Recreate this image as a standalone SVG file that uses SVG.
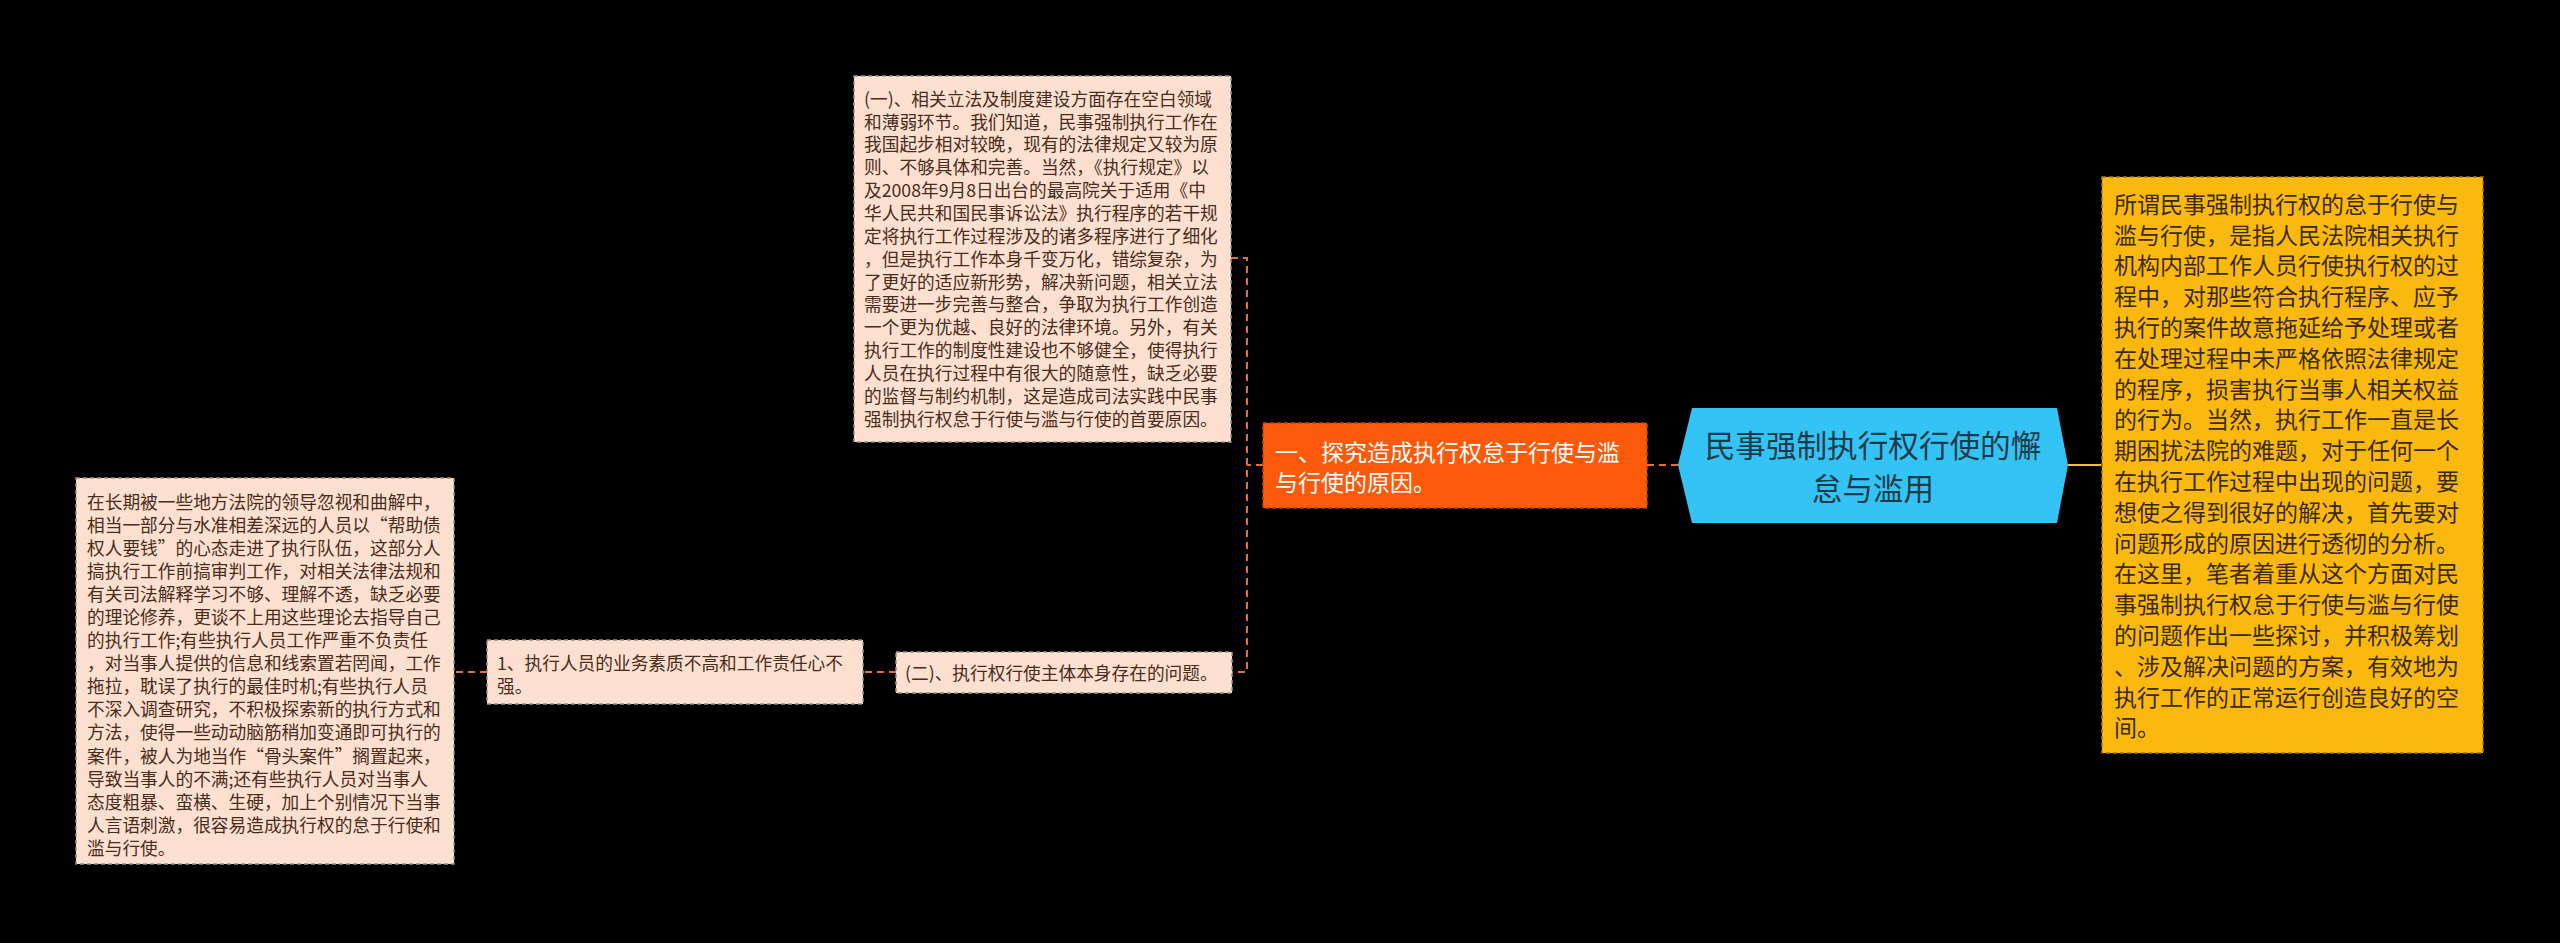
<svg xmlns="http://www.w3.org/2000/svg" width="2560" height="943" viewBox="0 0 2560 943">
<style>
.pink{fill:#fde0cf;stroke:#9a9088;stroke-width:1.5;stroke-dasharray:4 3}
.pt{font-family:"Noto Sans CJK SC","Noto Sans",sans-serif;font-size:17.7px;fill:#4a2c1c}
.org{fill:#fb5a0b;stroke:#c84400;stroke-width:1.5;stroke-dasharray:4 3}
.ot{font-family:"Noto Sans CJK SC","Noto Sans",sans-serif;font-size:23px;fill:#ffffff}
.hex{fill:#33c3f4}
.ht{font-family:"Noto Sans CJK SC","Noto Sans",sans-serif;font-size:30.6px;fill:#1d3a48;text-anchor:middle}
.yel{fill:#fbb90f;stroke:#a87a00;stroke-width:1.5;stroke-dasharray:4 3}
.yt{font-family:"Noto Sans CJK SC","Noto Sans",sans-serif;font-size:23px;fill:#3a2a05}
.conn{fill:none;stroke:#e2703a;stroke-width:2;stroke-dasharray:7 5}
.connY{fill:none;stroke:#f2c02a;stroke-width:2}
</style>
<rect width="2560" height="943" fill="#000"/>
<g id="connectors">
<path class="conn" d="M1647,465 L1678,465"/>
<path class="connY" d="M2068,465 L2101,465"/>
<path class="conn" d="M1263,465 L1247,465"/>
<path class="conn" d="M1231,258 L1247,258 L1247,672 L1232,672"/>
<path class="conn" d="M896,672 L863,672"/>
<path class="conn" d="M487,672 L454,672"/>
</g>
<g id="root">
<polygon class="hex" points="1678,465 1692,408 2057,408 2068,465 2057,523 1692,523"/>
<text class="ht"><tspan x="1873" y="456.6">民事强制执行权行使的懈</tspan><tspan x="1873" y="499.6">怠与滥用</tspan></text>
</g>
<g id="summary">
<rect class="yel" x="2102" y="177" width="381" height="576"/>
<text class="yt">
<tspan x="2114" y="212.7">所谓民事强制执行权的怠于行使与</tspan>
<tspan x="2114" y="243.5">滥与行使，是指人民法院相关执行</tspan>
<tspan x="2114" y="274.3">机构内部工作人员行使执行权的过</tspan>
<tspan x="2114" y="305.1">程中，对那些符合执行程序、应予</tspan>
<tspan x="2114" y="335.9">执行的案件故意拖延给予处理或者</tspan>
<tspan x="2114" y="366.7">在处理过程中未严格依照法律规定</tspan>
<tspan x="2114" y="397.5">的程序，损害执行当事人相关权益</tspan>
<tspan x="2114" y="428.3">的行为。当然，执行工作一直是长</tspan>
<tspan x="2114" y="459.1">期困扰法院的难题，对于任何一个</tspan>
<tspan x="2114" y="489.9">在执行工作过程中出现的问题，要</tspan>
<tspan x="2114" y="520.7">想使之得到很好的解决，首先要对</tspan>
<tspan x="2114" y="551.5">问题形成的原因进行透彻的分析。</tspan>
<tspan x="2114" y="582.3">在这里，笔者着重从这个方面对民</tspan>
<tspan x="2114" y="613.1">事强制执行权怠于行使与滥与行使</tspan>
<tspan x="2114" y="643.9">的问题作出一些探讨，并积极筹划</tspan>
<tspan x="2114" y="674.7">、涉及解决问题的方案，有效地为</tspan>
<tspan x="2114" y="705.5">执行工作的正常运行创造良好的空</tspan>
<tspan x="2114" y="736.3">间。</tspan>
</text>
</g>
<g id="branch1">
<rect class="org" x="1263" y="423" width="384" height="85"/>
<text class="ot"><tspan x="1275" y="460.7">一、探究造成执行权怠于行使与滥</tspan><tspan x="1275" y="490.7">与行使的原因。</tspan></text>
</g>
<g id="sub1">
<rect class="pink" x="854" y="76" width="377" height="366"/>
<text class="pt">
<tspan x="864" y="105.7">(一)、相关立法及制度建设方面存在空白领域</tspan>
<tspan x="864" y="128.6">和薄弱环节。我们知道，民事强制执行工作在</tspan>
<tspan x="864" y="151.4">我国起步相对较晚，现有的法律规定又较为原</tspan>
<tspan x="864" y="174.3">则、不够具体和完善。当然，《执行规定》以</tspan>
<tspan x="864" y="197.1">及2008年9月8日出台的最高院关于适用《中</tspan>
<tspan x="864" y="220.0">华人民共和国民事诉讼法》执行程序的若干规</tspan>
<tspan x="864" y="242.9">定将执行工作过程涉及的诸多程序进行了细化</tspan>
<tspan x="864" y="265.7">，但是执行工作本身千变万化，错综复杂，为</tspan>
<tspan x="864" y="288.6">了更好的适应新形势，解决新问题，相关立法</tspan>
<tspan x="864" y="311.4">需要进一步完善与整合，争取为执行工作创造</tspan>
<tspan x="864" y="334.3">一个更为优越、良好的法律环境。另外，有关</tspan>
<tspan x="864" y="357.1">执行工作的制度性建设也不够健全，使得执行</tspan>
<tspan x="864" y="380.0">人员在执行过程中有很大的随意性，缺乏必要</tspan>
<tspan x="864" y="402.9">的监督与制约机制，这是造成司法实践中民事</tspan>
<tspan x="864" y="425.7">强制执行权怠于行使与滥与行使的首要原因。</tspan>
</text>
</g>
<g id="sub2">
<rect class="pink" x="896" y="652" width="336" height="41"/>
<text class="pt"><tspan x="905" y="679.7">(二)、执行权行使主体本身存在的问题。</tspan></text>
</g>
<g id="sub2-1">
<rect class="pink" x="487" y="640" width="376" height="64"/>
<text class="pt"><tspan x="497" y="669.7">1、执行人员的业务素质不高和工作责任心不</tspan><tspan x="497" y="692.7">强。</tspan></text>
</g>
<g id="sub2-1-1">
<rect class="pink" x="76" y="478" width="378" height="386"/>
<text class="pt">
<tspan x="87" y="508.7">在长期被一些地方法院的领导忽视和曲解中，</tspan>
<tspan x="87" y="531.8">相当一部分与水准相差深远的人员以“帮助债</tspan>
<tspan x="87" y="554.8">权人要钱”的心态走进了执行队伍，这部分人</tspan>
<tspan x="87" y="577.9">搞执行工作前搞审判工作，对相关法律法规和</tspan>
<tspan x="87" y="601.0">有关司法解释学习不够、理解不透，缺乏必要</tspan>
<tspan x="87" y="624.1">的理论修养，更谈不上用这些理论去指导自己</tspan>
<tspan x="87" y="647.1">的执行工作;有些执行人员工作严重不负责任</tspan>
<tspan x="87" y="670.2">，对当事人提供的信息和线索置若罔闻，工作</tspan>
<tspan x="87" y="693.3">拖拉，耽误了执行的最佳时机;有些执行人员</tspan>
<tspan x="87" y="716.3">不深入调查研究，不积极探索新的执行方式和</tspan>
<tspan x="87" y="739.4">方法，使得一些动动脑筋稍加变通即可执行的</tspan>
<tspan x="87" y="762.5">案件，被人为地当作“骨头案件”搁置起来，</tspan>
<tspan x="87" y="785.5">导致当事人的不满;还有些执行人员对当事人</tspan>
<tspan x="87" y="808.6">态度粗暴、蛮横、生硬，加上个别情况下当事</tspan>
<tspan x="87" y="831.7">人言语刺激，很容易造成执行权的怠于行使和</tspan>
<tspan x="87" y="854.7">滥与行使。</tspan>
</text>
</g>
</svg>
